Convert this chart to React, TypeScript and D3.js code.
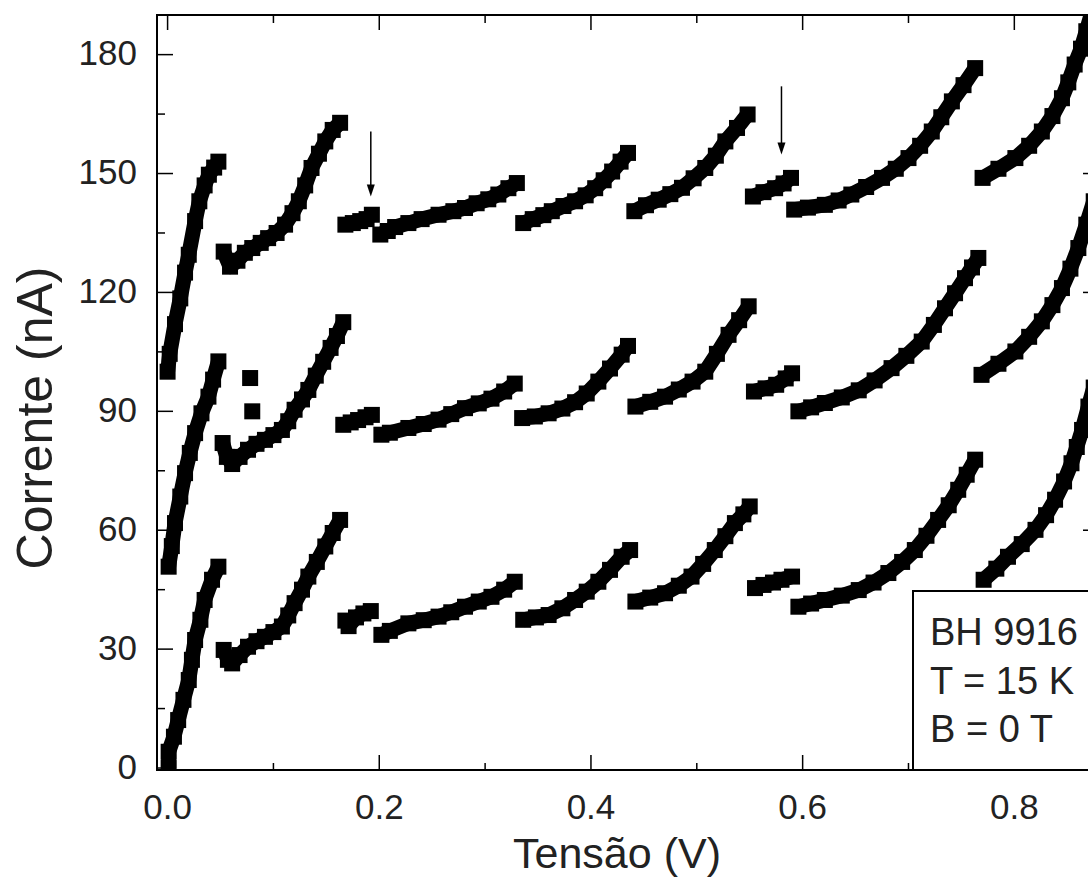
import React from 'react';
import * as d3 from 'd3';

type P = [number, number];

const xTicksMajor = [0, 0.2, 0.4, 0.6, 0.8];
const xTicksMinor = [0.1, 0.3, 0.5, 0.7];
const xTickLabels = ['0.0', '0.2', '0.4', '0.6', '0.8'];
const yTicksMajor = [0, 30, 60, 90, 120, 150, 180];
const yTicksMinor = [15, 45, 75, 105, 135, 165];

// Top curve (segments of the Coulomb staircase), values in V and nA
const curveTop: P[][] = [
  [[0.000,100],[0.002,104.5],[0.007,112],[0.012,118.5],[0.0165,125],[0.020,129.5],[0.026,138],[0.030,143],[0.035,147],[0.039,149.7],[0.044,151.5],[0.048,153]],
  [[0.053,130.3],[0.059,126.5],[0.066,128],[0.073,130],[0.080,131.2],[0.088,132.5],[0.095,133.7],[0.103,135],[0.111,137.1],[0.118,140],[0.124,143],[0.130,147],[0.136,151.4],[0.143,155],[0.149,158.1],[0.156,161],[0.163,162.8]],
  [[0.168,137.1],[0.175,137.5],[0.182,138],[0.188,138.5],[0.193,139.6]],
  [[0.201,134.6],[0.208,135.5],[0.215,136.5],[0.2275,137.5],[0.240,138.5],[0.256,139.6],[0.270,140.5],[0.281,141.3],[0.292,142.5],[0.303,143.5],[0.3125,144.7],[0.322,146.3],[0.330,147.6]],
  [[0.336,137.5],[0.345,138.5],[0.355,139.5],[0.363,140.5],[0.374,141.8],[0.385,143],[0.395,144.5],[0.404,146.3],[0.412,148.3],[0.420,150.5],[0.428,153],[0.435,155.2]],
  [[0.441,140.5],[0.452,142],[0.464,143.4],[0.475,144.8],[0.486,146.4],[0.497,148.8],[0.508,151.4],[0.518,154.5],[0.527,158.1],[0.538,161.5],[0.548,164.9]],
  [[0.553,144.2],[0.563,145.3],[0.574,146.3],[0.582,147.5],[0.589,148.9]],
  [[0.592,140.9],[0.605,141.4],[0.621,142.1],[0.634,143.2],[0.646,144.7],[0.660,146.6],[0.675,148.9],[0.688,151.2],[0.700,153.9],[0.711,157],[0.722,160.6],[0.731,164.2],[0.741,168.2],[0.752,172.3],[0.763,176.6]],
  [[0.770,148.9],[0.785,151.2],[0.801,153.9],[0.814,157],[0.826,160.6],[0.836,164.5],[0.845,169],[0.851,173],[0.857,177.5],[0.863,181.5],[0.868,185.9],[0.873,190.5]],
];

// Middle curve
const curveMid: P[][] = [
  [[0.001,50.8],[0.004,56],[0.007,61.8],[0.012,68.5],[0.0165,74.4],[0.021,79.5],[0.026,84.5],[0.032,89.5],[0.0386,93.7],[0.043,98],[0.048,102.6]],
  [[0.052,82],[0.056,78.5],[0.061,76.7],[0.068,78.5],[0.076,80.3],[0.084,81.8],[0.092,82.8],[0.100,84],[0.108,85.3],[0.114,87.5],[0.120,90.4],[0.127,93],[0.133,95.4],[0.140,99],[0.147,102.5],[0.154,106],[0.160,109],[0.166,112.5]],
  [[0.166,86.6],[0.173,87.2],[0.180,87.8],[0.187,88.5],[0.193,89.1]],
  [[0.202,84.1],[0.210,84.6],[0.2275,85.8],[0.242,86.8],[0.256,87.9],[0.268,89.3],[0.281,90.8],[0.294,92],[0.306,93.2],[0.318,95],[0.328,97]],
  [[0.335,88.3],[0.347,88.7],[0.360,89.5],[0.373,90.7],[0.385,92.3],[0.396,94.5],[0.407,97.5],[0.418,100.8],[0.429,104.3],[0.435,106.5]],
  [[0.442,91.2],[0.456,92.4],[0.470,93.7],[0.483,95.5],[0.496,97.5],[0.508,100],[0.519,104.5],[0.530,109.3],[0.540,113],[0.549,116.5]],
  [[0.554,95],[0.565,95.8],[0.575,96.7],[0.584,98.3],[0.590,99.6]],
  [[0.596,90],[0.608,91],[0.621,92.1],[0.637,93.5],[0.653,95.3],[0.668,97.8],[0.684,100.9],[0.698,104],[0.7125,107.6],[0.724,111.8],[0.7345,116],[0.744,119.8],[0.7534,123.6],[0.760,126.3],[0.766,128.7]],
  [[0.769,99.2],[0.785,102],[0.801,105.1],[0.814,108.8],[0.826,112.7],[0.836,116.8],[0.845,121.1],[0.853,126],[0.8605,131.2],[0.868,137.1],[0.875,143]],
];
// Isolated points of the middle curve
const midIsolated: P[] = [[0.078, 98.4], [0.080, 90]];

// Bottom curve
const curveBot: P[][] = [
  [[0.001,0],[0.001,4.1],[0.006,7.9],[0.010,12.1],[0.015,17.2],[0.020,22.2],[0.023,27.3],[0.026,32.3],[0.031,37.4],[0.035,42.4],[0.042,47.5],[0.048,50.8]],
  [[0.053,29.8],[0.057,27.3],[0.061,26.4],[0.068,28.5],[0.076,30.6],[0.084,32],[0.092,33.1],[0.100,34.3],[0.108,35.7],[0.114,38.5],[0.120,41.6],[0.127,45],[0.133,48.3],[0.141,52],[0.149,55.9],[0.156,59.3],[0.163,62.6]],
  [[0.168,37.2],[0.171,35.8],[0.178,38],[0.185,39],[0.192,39.6]],
  [[0.202,33.6],[0.210,34.6],[0.2275,36.5],[0.242,37.3],[0.256,38.2],[0.268,39.3],[0.281,40.7],[0.294,42],[0.306,43.2],[0.318,45],[0.328,47]],
  [[0.336,37.4],[0.348,38],[0.360,38.6],[0.373,40.3],[0.385,42.4],[0.396,44.5],[0.407,47],[0.418,50],[0.429,53.3],[0.437,55]],
  [[0.442,42],[0.456,43],[0.470,44.1],[0.483,46],[0.495,48.3],[0.506,51.5],[0.517,55],[0.527,58.5],[0.536,61.8],[0.544,64],[0.550,66]],
  [[0.555,45.4],[0.563,46.2],[0.572,46.8],[0.580,47.5],[0.590,48.3]],
  [[0.596,40.7],[0.608,41.5],[0.621,42.4],[0.637,43.5],[0.653,44.9],[0.667,46.8],[0.681,49.2],[0.694,52],[0.706,55],[0.717,58.6],[0.728,62.6],[0.738,66.3],[0.747,70.2],[0.755,74],[0.763,77.8]],
  [[0.771,47.5],[0.783,50.3],[0.794,53.3],[0.807,56.5],[0.820,60.1],[0.830,63.8],[0.8385,67.7],[0.847,72.3],[0.854,76.9],[0.859,81],[0.864,85.3],[0.870,91.2],[0.875,96]],
];

// Arrows marking features (voltage, start current, tip current)
const arrows = [
  { v: 0.192, from: 160.6, to: 144.2 },
  { v: 0.580, from: 172.0, to: 154.8 },
];

const legendLines = ['BH 9916', 'T = 15 K', 'B = 0 T'];

const FONT = '"Liberation Sans", Arial, Helvetica, sans-serif';

export default function App() {
  const W = 1088;
  const H = 878;
  const left = 157, right = 1099, top = 15, bottom = 770;
  const x = d3.scaleLinear().domain([-0.01, 0.88]).range([left, right]);
  const y = d3.scaleLinear().domain([-0.5, 190]).range([bottom, top]);
  const line = d3.line<P>().x(d => x(d[0])).y(d => y(d[1]));
  const M = 16; // marker size

  const curves = [curveBot, curveMid, curveTop];

  return (
    <svg width={W} height={H} style={{ position: 'absolute', left: 0, top: 0, background: '#fff' }} fontFamily={FONT}>
      <defs>
        <clipPath id="plotClip">
          <rect x={left} y={top} width={right - left} height={bottom - top} />
        </clipPath>
      </defs>
      <rect x={0} y={0} width={W} height={H} fill="#fff" />

      <g clipPath="url(#plotClip)">
        {curves.map((segs, ci) => (
          <g key={ci}>
            {segs.map((seg, si) => (
              <g key={si}>
                <path d={line(seg) || ''} fill="none" stroke="#000" strokeWidth={15} strokeLinejoin="round" />
                {seg.map((p, pi) => (
                  <rect key={pi} x={x(p[0]) - M / 2} y={y(p[1]) - M / 2} width={M} height={M} fill="#000" />
                ))}
              </g>
            ))}
          </g>
        ))}
        {midIsolated.map((p, i) => (
          <rect key={'iso' + i} x={x(p[0]) - M / 2} y={y(p[1]) - M / 2} width={M} height={M} fill="#000" />
        ))}
        {arrows.map((a, i) => (
          <g key={'ar' + i}>
            <line x1={x(a.v)} x2={x(a.v)} y1={y(a.from)} y2={y(a.to) - 10} stroke="#000" strokeWidth={1.5} />
            <path d={`M${x(a.v) - 4},${y(a.to) - 12} L${x(a.v) + 4},${y(a.to) - 12} L${x(a.v)},${y(a.to)} Z`} fill="#000" />
          </g>
        ))}
      </g>

      {/* ticks */}
      <g stroke="#000" strokeWidth={1.5}>
        {xTicksMajor.map(t => (
          <g key={'xM' + t}>
            <line x1={x(t)} x2={x(t)} y1={bottom} y2={bottom - 15} />
            <line x1={x(t)} x2={x(t)} y1={top} y2={top + 15} />
          </g>
        ))}
        {xTicksMinor.map(t => (
          <g key={'xm' + t}>
            <line x1={x(t)} x2={x(t)} y1={bottom} y2={bottom - 7} />
            <line x1={x(t)} x2={x(t)} y1={top} y2={top + 8} />
          </g>
        ))}
        {yTicksMajor.map(t => (
          <g key={'yM' + t}>
            <line x1={left} x2={left + 16} y1={y(t)} y2={y(t)} />
            <line x1={right} x2={right - 16} y1={y(t)} y2={y(t)} />
          </g>
        ))}
        {yTicksMinor.map(t => (
          <g key={'ym' + t}>
            <line x1={left} x2={left + 8} y1={y(t)} y2={y(t)} />
            <line x1={right} x2={right - 8} y1={y(t)} y2={y(t)} />
          </g>
        ))}
      </g>

      {/* frame */}
      <rect x={left} y={top} width={right - left} height={bottom - top} fill="none" stroke="#000" strokeWidth={2} />

      {/* legend box */}
      <rect x={913} y={591} width={right - 913} height={bottom - 591} fill="#fff" stroke="#000" strokeWidth={2} />
      {legendLines.map((t, i) => (
        <text key={t} x={930} y={645 + i * 48.6} fontSize={38} fill="#222">{t}</text>
      ))}

      {/* tick labels */}
      {yTicksMajor.map(t => (
        <text key={'yl' + t} x={137} y={y(t) + 10.5} fontSize={35} textAnchor="end" fill="#222">{String(t)}</text>
      ))}
      {xTicksMajor.map((t, i) => (
        <text key={'xl' + t} x={x(t)} y={819} fontSize={35} textAnchor="middle" fill="#222">{xTickLabels[i]}</text>
      ))}

      {/* axis titles */}
      <text x={617} y={868} fontSize={43} textAnchor="middle" fill="#222">Tensão (V)</text>
      <text transform={`translate(52, 418) rotate(-90)`} fontSize={50} textAnchor="middle" fill="#222">Corrente (nA)</text>
    </svg>
  );
}
